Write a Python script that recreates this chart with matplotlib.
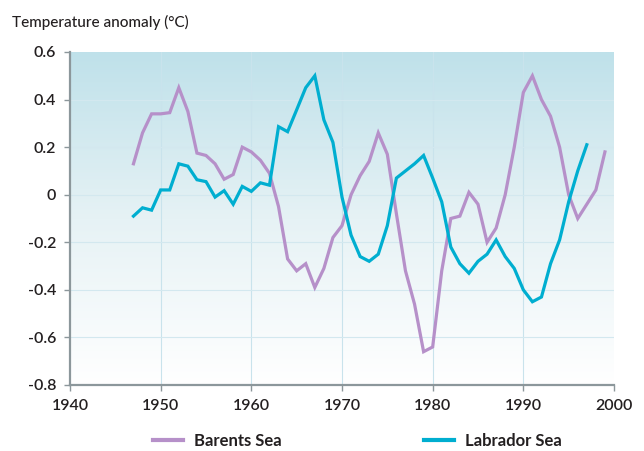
import numpy as np
import matplotlib.pyplot as plt
from matplotlib.colors import LinearSegmentedColormap
from matplotlib.lines import Line2D

years_barents = list(range(1947, 2000))
barents = [0.13, 0.26, 0.34, 0.34, 0.345, 0.45, 0.35, 0.175, 0.165, 0.13, 0.065,
           0.085, 0.2, 0.18, 0.145, 0.09, -0.05, -0.27, -0.32, -0.29, -0.39,
           -0.31, -0.18, -0.13, 0.0, 0.08, 0.14, 0.26, 0.17, -0.08, -0.32,
           -0.46, -0.66, -0.64, -0.32, -0.1, -0.09, 0.01, -0.04, -0.2, -0.14,
           0.0, 0.2, 0.43, 0.5, 0.4, 0.33, 0.2, 0.0, -0.1, -0.04, 0.02, 0.18]

years_labrador = list(range(1947, 1998))
labrador = [-0.09, -0.055, -0.065, 0.02, 0.02, 0.13, 0.12, 0.063, 0.055, -0.01,
            0.017, -0.04, 0.035, 0.014, 0.05, 0.04, 0.286, 0.265, 0.357, 0.45,
            0.5, 0.315, 0.22, -0.01, -0.17, -0.26, -0.28, -0.25, -0.13, 0.07,
            0.1, 0.13, 0.165, 0.07, -0.03, -0.22, -0.29, -0.33, -0.28, -0.25,
            -0.19, -0.26, -0.31, -0.4, -0.45, -0.43, -0.29, -0.19, -0.03, 0.1,
            0.21]

xticks = [1940, 1950, 1960, 1970, 1980, 1990, 2000]
yticks = [-0.8, -0.6, -0.4, -0.2, 0, 0.2, 0.4, 0.6]
ytick_labels = ['-0.8', '-0.6', '-0.4', '-0.2', '0', '0.2', '0.4', '0.6']

purple = '#b690c9'
cyan = '#00aed0'
text_col = '#231f20'

plt.rcParams['font.family'] = ['Lato', 'DejaVu Sans']

fig = plt.figure(figsize=(6.44, 4.51), dpi=100)
ax = fig.add_axes([70 / 644, 66 / 451, 544 / 644, 333 / 451])

# background gradient: light blue at top fading to white
grad = np.linspace(0, 1, 256).reshape(-1, 1)
cmap = LinearSegmentedColormap.from_list('bg', ['#ffffff', '#e6f2f5', '#bfe1ea'])
ax.imshow(grad, aspect='auto', cmap=cmap, origin='lower',
          extent=[1940, 2000, -0.8, 0.6], zorder=0)

for x in xticks[1:-1]:
    ax.axvline(x, color='#c9e3ec', lw=0.8, zorder=1)
for y in yticks[1:-1]:
    ax.axhline(y, color='#d3e8ef', lw=0.8, zorder=1)

ax.plot(years_barents, barents, color=purple, lw=2.3, zorder=3,
        solid_joinstyle='miter')
ax.plot(years_labrador, labrador, color=cyan, lw=2.3, zorder=4,
        solid_joinstyle='miter')

ax.set_xlim(1940, 2000)
ax.set_ylim(-0.8, 0.6)
ax.set_xticks(xticks)
ax.set_yticks(yticks)
ax.set_yticklabels(ytick_labels)

for side in ['top', 'right']:
    ax.spines[side].set_visible(False)
for side in ['left', 'bottom']:
    ax.spines[side].set_color('#8c979b')
    ax.spines[side].set_linewidth(1.6)
ax.tick_params(axis='both', length=4, width=1, color='#8c979b',
               labelsize=11.5, labelcolor=text_col, pad=6)
for lbl in ax.get_xticklabels() + ax.get_yticklabels():
    lbl.set_fontweight('semibold')

fig.text(12 / 644, 1 - 22 / 451, 'Temperature anomaly (°C)', fontsize=11,
         color=text_col, va='center', ha='left', fontweight='medium')

handles = [Line2D([0], [0], color=purple, lw=3),
           Line2D([0], [0], color=cyan, lw=3)]
leg = fig.legend(handles, ['Barents Sea', 'Labrador Sea'], loc='center',
                 bbox_to_anchor=(0.555, 1 - 441 / 451), ncol=2, frameon=False,
                 handlelength=1.8, columnspacing=8.5, handletextpad=0.7,
                 prop={'weight': 'bold', 'size': 12})
for t in leg.get_texts():
    t.set_color(text_col)

fig.savefig('out.png', dpi=100)
